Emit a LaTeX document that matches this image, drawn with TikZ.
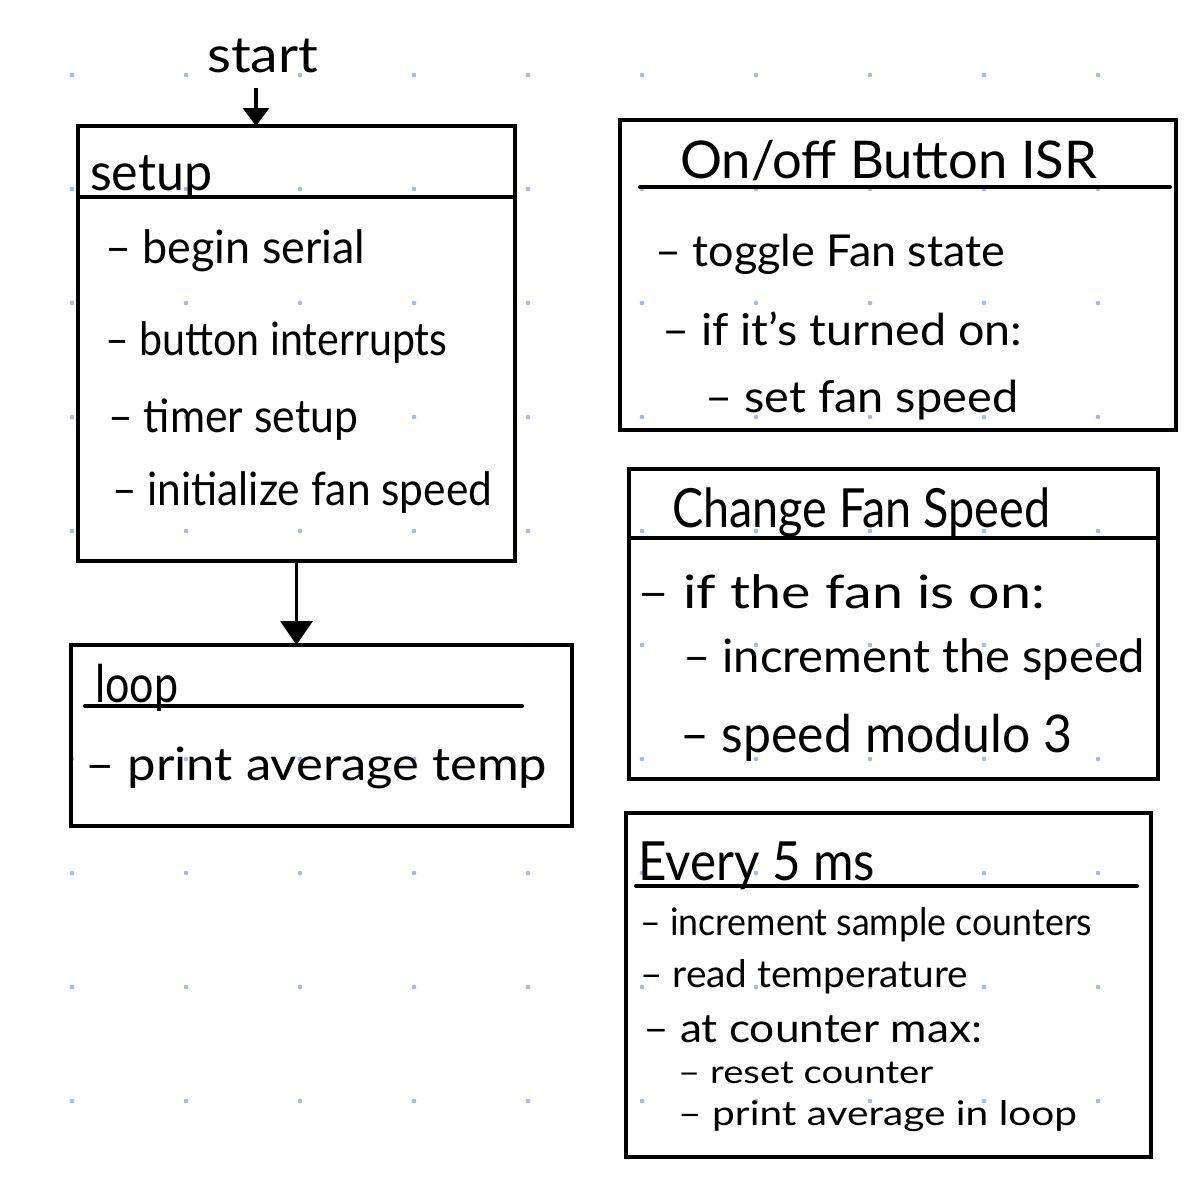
\documentclass[tikz,border=0pt]{standalone}
\usepackage{fontspec}
\usepackage{graphicx}
\setmainfont{Lato}
\usetikzlibrary{arrows.meta}
\definecolor{dotc}{RGB}{172,186,214}
\newcommand{\fw}[2]{\resizebox{#1pt}{\height}{#2}}
\tikzset{
  box/.style={draw=black, line width=4pt, inner sep=0pt, outer sep=0pt, rectangle},
  sep/.style={line width=4pt, line cap=round},
  txt/.style={anchor=base west, inner sep=0pt, font=\fontsize{#1}{#1}\selectfont},
  arr/.style={line width=3.5pt, -{Triangle[width=32pt,length=24pt]}},
}
\begin{document}
\begin{tikzpicture}[x=1pt,y=-1pt]
\useasboundingbox (0,0) rectangle (1186,1184);
% dot grid
\foreach \x in {72,186,...,1098}
  \foreach \y in {75,189,...,1101}
    \fill[dotc] (\x,\y) circle (2.3pt);

% boxes
\node[box, minimum width=437pt, minimum height=435pt] (setup) at (296.5,343.5) {};
\node[box, minimum width=501pt, minimum height=181pt] (loop) at (321.5,735.5) {};
\node[box, minimum width=556pt, minimum height=310pt] (isr) at (898,275) {};
\node[box, minimum width=529pt, minimum height=310pt] (chg) at (893.5,624) {};
\node[box, minimum width=525pt, minimum height=344pt] (tmr) at (888.5,985) {};

% separators
\draw[sep] ([yshift=-71pt]setup.north west) -- ([yshift=-71pt]setup.north east);
\draw[sep] (85,706) -- (522,706);
\draw[sep] (640,187) -- (1170,187);
\draw[sep] ([yshift=-69pt]chg.north west) -- ([yshift=-69pt]chg.north east);
\draw[sep] (636,886) -- (1137,886);

% start + arrows
\node[txt=50] (start) at (207,72) {\fw{111}{start}};
\coordinate (st) at (256,88);
\draw[line width=3.5pt, -{Triangle[width=26pt,length=18pt]}] (st) -- (st |- setup.north);
\draw[arr] (setup.south) -- (setup.south |- loop.north);

% setup texts
\node[txt=52] (t1) at (90,190) {\fw{122}{setup}};
\node[txt=46] (t2) at (105,263) {\fw{260}{– begin serial}};
\node[txt=46] (t3) at (105,355) {\fw{342}{– button interrupts}};
\node[txt=46] (t4) at (108,432) {\fw{250}{– timer setup}};
\node[txt=46] (t5) at (112,505) {\fw{380}{– initialize fan speed}};

% loop texts
\node[txt=52] (l1) at (95,702) {\fw{83}{loop}};
\node[txt=46] (l2) at (85,780) {\fw{462}{– print average temp}};

% ISR texts
\node[txt=52] (i1) at (680,178) {\fw{417}{On/off Button ISR}};
\node[txt=44] (i2) at (655,266) {\fw{350}{– toggle Fan state}};
\node[txt=44] (i3) at (662,345) {\fw{360}{– if it's turned on:}};
\node[txt=44] (i4) at (705,412) {\fw{313}{– set fan speed}};

% change fan speed texts
\node[txt=54] (c1) at (672,527) {\fw{378}{Change Fan Speed}};
\node[txt=46] (c2) at (637,608) {\fw{408}{– if the fan is on:}};
\node[txt=46] (c3) at (683,672) {\fw{462}{– increment the speed}};
\node[txt=52] (c4) at (680,752) {\fw{392}{– speed modulo 3}};

% every 5 ms texts
\node[txt=54] (e1) at (638,880) {\fw{237}{Every 5 ms}};
\node[txt=38] (e2) at (640,935) {\fw{452}{– increment sample counters}};
\node[txt=38] (e3) at (640,987) {\fw{328}{– read temperature}};
\node[txt=40] (e4) at (643,1042) {\fw{339}{– at counter max:}};
\node[txt=32] (e5) at (678,1083) {\fw{255}{– reset counter}};
\node[txt=34] (e6) at (678,1125) {\fw{399}{– print average in loop}};
\end{tikzpicture}
\end{document}
